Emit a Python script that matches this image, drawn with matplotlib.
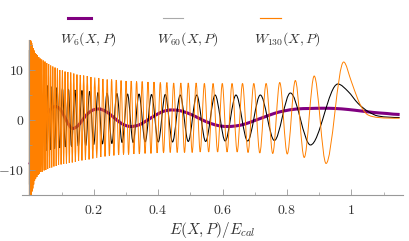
import numpy as np
import matplotlib
matplotlib.use("Agg")
import matplotlib.pyplot as plt
from matplotlib.path import Path
from matplotlib.patches import PathPatch
from matplotlib.lines import Line2D

plt.rcParams['mathtext.fontset'] = 'cm'

## ==> DATA (extrema of each curve, then the tail)
w6_u = [0.0, 0.005, 0.012, 0.022, 0.033, 0.045, 0.058, 0.070, 0.081, 0.093, 0.105, 0.118, 0.134, 0.150,
        0.165, 0.180, 0.198, 0.216, 0.235, 0.255, 0.275, 0.295, 0.315, 0.340, 0.365, 0.390, 0.415, 0.440,
        0.465, 0.495, 0.525, 0.555, 0.585, 0.612, 0.640, 0.670, 0.700, 0.730, 0.760, 0.790, 0.830, 0.870,
        0.910, 0.950, 0.990, 1.030, 1.070, 1.110, 1.150]
w6_w = [-9.0, -8.0, -6.0, -3.8, -1.8, -0.2, 1.5, 2.4, 2.7, 2.3, 1.2, -0.5, -1.7, -1.2,
        0.0, 1.2, 2.0, 2.2, 1.8, 0.9, -0.2, -1.0, -1.3, -1.0, -0.1, 0.9, 1.7, 2.0,
        1.9, 1.3, 0.4, -0.5, -1.1, -1.3, -1.2, -0.8, -0.1, 0.6, 1.3, 1.8, 2.2, 2.3,
        2.35, 2.3, 2.1, 1.8, 1.5, 1.3, 1.1]

w60_u = [0.00001, 0.00026, 0.00085, 0.00178, 0.00305, 0.00465, 0.00660, 0.00888, 0.0115, 0.0145,
         0.0178, 0.0215, 0.0255, 0.0299, 0.0346, 0.0397, 0.0452, 0.0510, 0.0572, 0.0638,
         0.0708, 0.0781, 0.0859, 0.0941, 0.1026, 0.1116, 0.1211, 0.1309, 0.1412, 0.1520,
         0.1632, 0.1749, 0.1871, 0.1998, 0.2131, 0.2268, 0.2412, 0.2561, 0.2717, 0.2879,
         0.3047, 0.3222, 0.3405, 0.3596, 0.3794, 0.4002, 0.4219, 0.4446, 0.4684, 0.4934,
         0.5197, 0.5474, 0.5768, 0.6081, 0.6416, 0.6778, 0.7172, 0.7609, 0.8106, 0.8730,
         0.958, 0.99, 1.021, 1.052, 1.083, 1.15]
w60_w = [14.0, -12.9, 13.8, -12.5, 13.2, -11.7, 12.2, -10.6, 10.8, -9.0,
         9.1, -7.4, 8.2, -7.1, 7.8, -6.6, 7.2, -6.2, 6.9, -6.0,
         6.7, -5.8, 6.5, -5.6, 6.3, -5.4, 6.2, -5.3, 6.0, -5.2,
         5.9, -5.1, 5.7, -4.9, 5.5, -4.8, 5.4, -4.7, 5.3, -4.5,
         5.2, -4.5, 5.2, -4.4, 5.1, -4.4, 5.1, -4.4, 5.0, -4.3,
         5.0, -4.3, 5.0, -4.2, 5.0, -4.2, 5.0, -4.1, 5.4, -5.0,
         7.2, 5.7, 3.3, 1.7, 0.8, 0.5]

w130_u = [0.0, 0.00006, 0.00018, 0.00038, 0.00065, 0.00100, 0.00142, 0.00191, 0.00247, 0.00310,
          0.00381, 0.00459, 0.00545, 0.00637, 0.00737, 0.00845, 0.00960, 0.0108, 0.0121, 0.0135,
          0.0149, 0.0164, 0.0180, 0.0197, 0.0215, 0.0233, 0.0252, 0.0271, 0.0292, 0.0313,
          0.0335, 0.0358, 0.0382, 0.0406, 0.0431, 0.0457, 0.0484, 0.0511, 0.0540, 0.0569,
          0.0599, 0.0630, 0.0661, 0.0694, 0.0727, 0.0761, 0.0796, 0.0832, 0.0869, 0.0906,
          0.0945, 0.0984, 0.1024, 0.1065, 0.1107, 0.1150, 0.1194, 0.1239, 0.1284, 0.1331,
          0.1379, 0.1427, 0.1477, 0.1528, 0.1579, 0.1632, 0.1686, 0.1740, 0.1796, 0.1853,
          0.1911, 0.1970, 0.2030, 0.2092, 0.2154, 0.2218, 0.2283, 0.2349, 0.2416, 0.2484,
          0.2554, 0.2625, 0.2698, 0.2772, 0.2847, 0.2924, 0.3002, 0.3081, 0.3162, 0.3245,
          0.3329, 0.3415, 0.3503, 0.3592, 0.3683, 0.3776, 0.3870, 0.3967, 0.4066, 0.4166,
          0.4269, 0.4374, 0.4481, 0.4591, 0.4703, 0.4818, 0.4935, 0.5056, 0.5179, 0.5305,
          0.5435, 0.5568, 0.5705, 0.5846, 0.5991, 0.6140, 0.6294, 0.6454, 0.6619, 0.6791,
          0.6970, 0.7156, 0.7352, 0.7558, 0.7776, 0.8009, 0.8260, 0.8536, 0.8846, 0.9214,
          0.976, 1.0, 1.021, 1.037, 1.052, 1.083, 1.15]
w130_w = [22.0, -19.9, 21.7, -19.6, 21.0, -18.9, 19.9, -17.9, 18.3, -16.5,
          16.3, -15.3, 15.7, -14.9, 15.4, -14.3, 14.9, -13.7, 14.4, -12.9,
          13.9, -12.1, 13.4, -11.7, 13.2, -11.4, 12.9, -11.0, 12.6, -10.7,
          12.3, -10.4, 12.1, -10.3, 11.9, -10.1, 11.7, -10.0, 11.4, -9.8,
          11.2, -9.6, 10.9, -9.5, 10.7, -9.3, 10.5, -9.2, 10.3, -9.0,
          10.0, -8.9, 9.9, -8.8, 9.7, -8.7, 9.6, -8.6, 9.5, -8.5,
          9.3, -8.4, 9.1, -8.2, 9.0, -8.1, 8.9, -8.0, 8.8, -7.9,
          8.6, -7.7, 8.5, -7.6, 8.4, -7.4, 8.2, -7.3, 8.1, -7.2,
          8.1, -7.1, 8.0, -7.0, 7.9, -6.9, 7.8, -6.9, 7.8, -6.8,
          7.7, -6.8, 7.7, -6.7, 7.6, -6.7, 7.6, -6.6, 7.5, -6.6,
          7.5, -6.5, 7.4, -6.5, 7.4, -6.5, 7.4, -6.5, 7.4, -6.4,
          7.3, -6.4, 7.3, -6.4, 7.3, -6.4, 7.3, -6.4, 7.3, -6.5,
          7.3, -6.6, 7.3, -6.7, 7.5, -6.8, 7.9, -7.5, 8.8, -8.7,
          11.6, 7.7, 4.0, 2.0, 1.0, 0.5, 0.35]

x_ticks = [0.2, 0.4, 0.6, 0.8, 1.0]
x_ticklabels = ['$0.2$', '$0.4$', '$0.6$', '$0.8$', '$1$']
y_ticks = [-10, 0, 10]
y_ticklabels = ['$-10$', '$0$', '$10$']
labels = ['$W_6(X,P)$', '$W_{60}(X,P)$', '$W_{130}(X,P)$']


## ==> SMOOTH CURVE THROUGH THE POINTS (flat at the peaks)
def smooth_path(xs, ys):
    xs = np.asarray(xs, float)
    ys = np.asarray(ys, float)
    n = len(xs)
    m = np.zeros(n)
    for i in range(1, n - 1):
        if (ys[i] - ys[i - 1]) * (ys[i + 1] - ys[i]) > 0:
            m[i] = (ys[i + 1] - ys[i - 1]) / (xs[i + 1] - xs[i - 1])
    verts = [(xs[0], ys[0])]
    codes = [Path.MOVETO]
    for i in range(n - 1):
        h = xs[i + 1] - xs[i]
        verts += [(xs[i] + h / 3, ys[i] + m[i] * h / 3),
                  (xs[i + 1] - h / 3, ys[i + 1] - m[i + 1] * h / 3),
                  (xs[i + 1], ys[i + 1])]
        codes += [Path.CURVE4] * 3
    return Path(verts, codes)


fig = plt.figure(figsize=(4.09, 2.41), dpi=100)
ax = fig.add_axes([0.053, 0.191, 0.932, 0.643])

c_orange = (1.0, 0.5, 0.0)
c_purple = (0.5, 0.0, 0.5)
ax.add_patch(PathPatch(smooth_path(w6_u, w6_w), fill=False, edgecolor=c_purple, lw=2.2))
ax.add_patch(PathPatch(smooth_path(w60_u, w60_w), fill=False, edgecolor='black', lw=0.75))
ax.add_patch(PathPatch(smooth_path(w130_u, w130_w), fill=False, edgecolor=c_orange, lw=0.7))

## ==> AXES
ax.set_xlim(-0.024, 1.16)
ax.set_ylim(-15, 16)
for s in ['top', 'right']:
    ax.spines[s].set_visible(False)
ax.spines['left'].set_position(('data', 0))
for s in ['left', 'bottom']:
    ax.spines[s].set_color('#999999')
    ax.spines[s].set_linewidth(0.8)

ax.set_xticks(x_ticks)
ax.set_xticklabels(x_ticklabels)
ax.set_xticks([0.1, 0.3, 0.5, 0.7, 0.9, 1.1], minor=True)
ax.set_yticks(y_ticks)
ax.set_yticklabels(y_ticklabels)
ax.set_yticks([-15, -5, 5, 15], minor=True)
ax.tick_params(which='both', direction='in', color='#999999', labelsize=10, labelcolor='#333333')
ax.tick_params(which='major', length=4, width=0.6)
ax.tick_params(which='minor', length=2.5, width=0.5)
ax.tick_params(axis='x', pad=6)
ax.set_xlabel('$E(X,P)/E_{cal}$', fontsize=11, color='#333333', labelpad=2)

## ==> LEGEND ABOVE THE PLOT
legend = [(labels[0], c_purple, 2.2, 68, 91, 88),
          (labels[1], '#aaaaaa', 0.8, 163, 183, 188),
          (labels[2], c_orange, 0.85, 260, 281, 287)]
for lab, col, lw, x0, x1, xc in legend:
    fig.add_artist(Line2D([x0 / 409, x1 / 409], [1 - 18.3 / 241] * 2, color=col, lw=lw))
    fig.text(xc / 409, 1 - 39 / 241, lab, ha='center', va='center', fontsize=10, color='#333333')

fig.savefig('out.png', dpi=100)
